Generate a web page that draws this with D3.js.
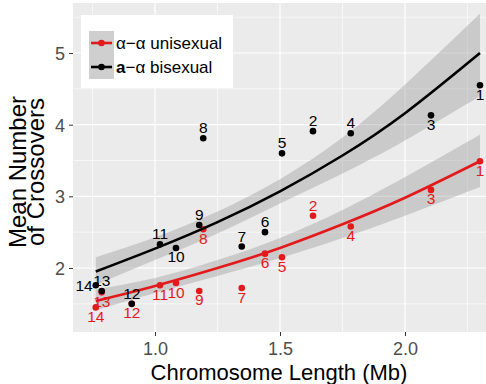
<!DOCTYPE html>
<html lang="en">
<head>
<meta charset="UTF-8">
<title>Crossovers vs chromosome length</title>
<style>
  body { margin: 0; background: #fff; }
  svg { display: block; font-family: "Liberation Sans", Arial, sans-serif; }
  svg text { font-family: "Liberation Sans", Arial, sans-serif; }
</style>
</head>
<body>
<svg width="486" height="384"></svg>
<script src="https://cdnjs.cloudflare.com/ajax/libs/d3/7.8.5/d3.min.js"></script>
<script>
// chromosome ids and lengths (Mb)
var chroms = [1, 2, 3, 4, 5, 6, 7, 8, 9, 10, 11, 12, 13, 14];
var lengths = [2.300, 1.632, 2.104, 1.783, 1.508, 1.440, 1.347, 1.193, 1.177, 1.084, 1.020, 0.907, 0.787, 0.763];

// mean crossovers per chromosome
var bisexual = [4.55, 3.91, 4.13, 3.88, 3.60, 2.50, 2.30, 3.81, 2.60, 2.28, 2.33, 1.50, 1.68, 1.76];
var unisexual = [3.49, 2.73, 3.09, 2.58, 2.15, 2.20, 1.72, 2.54, 1.68, 1.79, 1.76, 1.50, 1.66, 1.45];

// where each number label sits next to its point
var bisexualLabelPos = ['below', 'above', 'below', 'above', 'above', 'above', 'above', 'above', 'above', 'below', 'above', 'above', 'above', 'left'];
var unisexualLabelPos = ['below', 'above', 'below', 'below', 'below', 'below', 'below', 'below', 'below', 'below', 'below', 'below', 'below', 'below'];

// fitted curves with confidence band
var fitX = [0.763, 1.0, 1.25, 1.5, 1.75, 2.0, 2.3];
var bisexualFit = [1.95, 2.27, 2.64, 3.07, 3.57, 4.16, 5.00];
var bisexualLow = [1.76, 2.11, 2.48, 2.90, 3.32, 3.78, 4.40];
var bisexualHigh = [2.15, 2.43, 2.79, 3.24, 3.82, 4.56, 5.55];
var unisexualFit = [1.54, 1.75, 2.00, 2.28, 2.61, 2.98, 3.49];
var unisexualLow = [1.41, 1.65, 1.89, 2.14, 2.42, 2.73, 3.13];
var unisexualHigh = [1.70, 1.86, 2.11, 2.42, 2.81, 3.27, 3.86];

var xTicks = [1.0, 1.5, 2.0];
var xMinor = [0.75, 1.25, 1.75, 2.25];
var yTicks = [2, 3, 4, 5];
var yMinor = [1.5, 2.5, 3.5, 4.5, 5.5];

var RED = '#e31a1c';
var BLACK = '#000000';

var svg = d3.select('svg');
var panel = { left: 73, top: 3, right: 486, bottom: 332 };

var x = d3.scaleLinear().domain([0.672, 2.324]).range([panel.left, panel.right]);
var y = d3.scaleLinear().domain([1.107, 5.698]).range([panel.bottom, panel.top]);

// panel background
svg.append('rect')
    .attr('x', panel.left).attr('y', panel.top)
    .attr('width', panel.right - panel.left)
    .attr('height', panel.bottom - panel.top)
    .attr('fill', '#ebebeb');

var grid = svg.append('g');
grid.selectAll('.xminor').data(xMinor).enter().append('line')
    .attr('x1', d => x(d)).attr('x2', d => x(d))
    .attr('y1', panel.top).attr('y2', panel.bottom)
    .attr('stroke', '#fff').attr('stroke-width', 0.6);
grid.selectAll('.yminor').data(yMinor).enter().append('line')
    .attr('y1', d => y(d)).attr('y2', d => y(d))
    .attr('x1', panel.left).attr('x2', panel.right)
    .attr('stroke', '#fff').attr('stroke-width', 0.6);
grid.selectAll('.xmajor').data(xTicks).enter().append('line')
    .attr('x1', d => x(d)).attr('x2', d => x(d))
    .attr('y1', panel.top).attr('y2', panel.bottom)
    .attr('stroke', '#fff').attr('stroke-width', 1.2);
grid.selectAll('.ymajor').data(yTicks).enter().append('line')
    .attr('y1', d => y(d)).attr('y2', d => y(d))
    .attr('x1', panel.left).attr('x2', panel.right)
    .attr('stroke', '#fff').attr('stroke-width', 1.2);

// axes
var xAxis = svg.append('g')
    .attr('transform', 'translate(0,' + panel.bottom + ')')
    .call(d3.axisBottom(x).tickValues(xTicks).tickFormat(d3.format('.1f')).tickSize(4).tickPadding(4));
var yAxis = svg.append('g')
    .attr('transform', 'translate(' + panel.left + ',0)')
    .call(d3.axisLeft(y).tickValues(yTicks).tickFormat(d3.format('d')).tickSize(4).tickPadding(4));
[xAxis, yAxis].forEach(function (a) {
    a.select('.domain').remove();
    a.selectAll('line').attr('stroke', '#333').attr('stroke-width', 1);
    a.selectAll('text').attr('fill', '#4d4d4d').style('font-size', '18px')
        .style('font-family', '"Liberation Sans", Arial, sans-serif');
});
xAxis.selectAll('text').attr('dy', '0.82em');
yAxis.selectAll('text').attr('dy', '0.36em');

// axis titles
svg.append('text')
    .attr('x', 279).attr('y', 380)
    .attr('text-anchor', 'middle')
    .style('font-size', '22px')
    .text('Chromosome Length (Mb)');

var yTitle = svg.append('text')
    .attr('transform', 'translate(0,172) rotate(-90)')
    .attr('text-anchor', 'middle')
    .style('font-size', '24px');
yTitle.append('tspan').attr('x', 0).attr('y', 26).text('Mean Number');
yTitle.append('tspan').attr('x', 0).attr('y', 44).text('of Crossovers');

// fitted curves
var fitRows = fitX.map(function (d, i) {
    return {
        x: d,
        bFit: bisexualFit[i], bLow: bisexualLow[i], bHigh: bisexualHigh[i],
        uFit: unisexualFit[i], uLow: unisexualLow[i], uHigh: unisexualHigh[i]
    };
});

function band(lo, hi) {
    return d3.area().curve(d3.curveNatural)
        .x(d => x(d.x)).y0(d => y(d[lo])).y1(d => y(d[hi]));
}
function fitLine(key) {
    return d3.line().curve(d3.curveNatural).x(d => x(d.x)).y(d => y(d[key]));
}

svg.append('path').datum(fitRows).attr('d', band('bLow', 'bHigh'))
    .attr('fill', '#999').attr('fill-opacity', 0.4);
svg.append('path').datum(fitRows).attr('d', band('uLow', 'uHigh'))
    .attr('fill', '#999').attr('fill-opacity', 0.4);

// series points + labels
function drawSeries(values, labelPos, color, fitKey) {
    var rows = chroms.map(function (c, i) {
        return { chrom: c, len: lengths[i], val: values[i], pos: labelPos[i] };
    });
    var g = svg.append('g');
    g.append('path').datum(fitRows).attr('d', fitLine(fitKey))
        .attr('fill', 'none').attr('stroke', color).attr('stroke-width', 2.6);
    g.selectAll('circle').data(rows).enter().append('circle')
        .attr('cx', d => x(d.len)).attr('cy', d => y(d.val))
        .attr('r', 3.3).attr('fill', color);
    g.selectAll('text').data(rows).enter().append('text')
        .attr('x', function (d) { return d.pos === 'left' ? x(d.len) - 3 : x(d.len); })
        .attr('y', function (d) {
            if (d.pos === 'above') return y(d.val) - 5;
            if (d.pos === 'below') return y(d.val) + 14.5;
            return y(d.val) + 5.5;
        })
        .attr('text-anchor', d => d.pos === 'left' ? 'end' : 'middle')
        .attr('fill', color)
        .style('font-size', '15.5px')
        .text(d => d.chrom);
}
drawSeries(unisexual, unisexualLabelPos, RED, 'uFit');
drawSeries(bisexual, bisexualLabelPos, BLACK, 'bFit');

// legend
var legend = svg.append('g');
legend.append('rect')
    .attr('x', 81).attr('y', 15).attr('width', 152).attr('height', 73)
    .attr('fill', '#fff');
var keys = [
    { color: RED, label: 'unisexual', first: 'α', bold: false },
    { color: BLACK, label: 'bisexual', first: 'a', bold: true }
];
keys.forEach(function (k, i) {
    var top = 31 + i * 24;
    legend.append('rect')
        .attr('x', 89).attr('y', top).attr('width', 25).attr('height', 24)
        .attr('fill', '#cfcfcf');
    legend.append('line')
        .attr('x1', 91).attr('x2', 112).attr('y1', top + 12).attr('y2', top + 12)
        .attr('stroke', k.color).attr('stroke-width', 2.6);
    legend.append('circle')
        .attr('cx', 101.5).attr('cy', top + 12).attr('r', 3.3).attr('fill', k.color);
    var t = legend.append('text')
        .attr('x', 116).attr('y', top + 18)
        .style('font-size', '17px');
    t.append('tspan').attr('font-weight', k.bold ? 'bold' : 'normal').text(k.first);
    t.append('tspan').text('\u2212α ' + k.label);
});
</script>
</body>
</html>
